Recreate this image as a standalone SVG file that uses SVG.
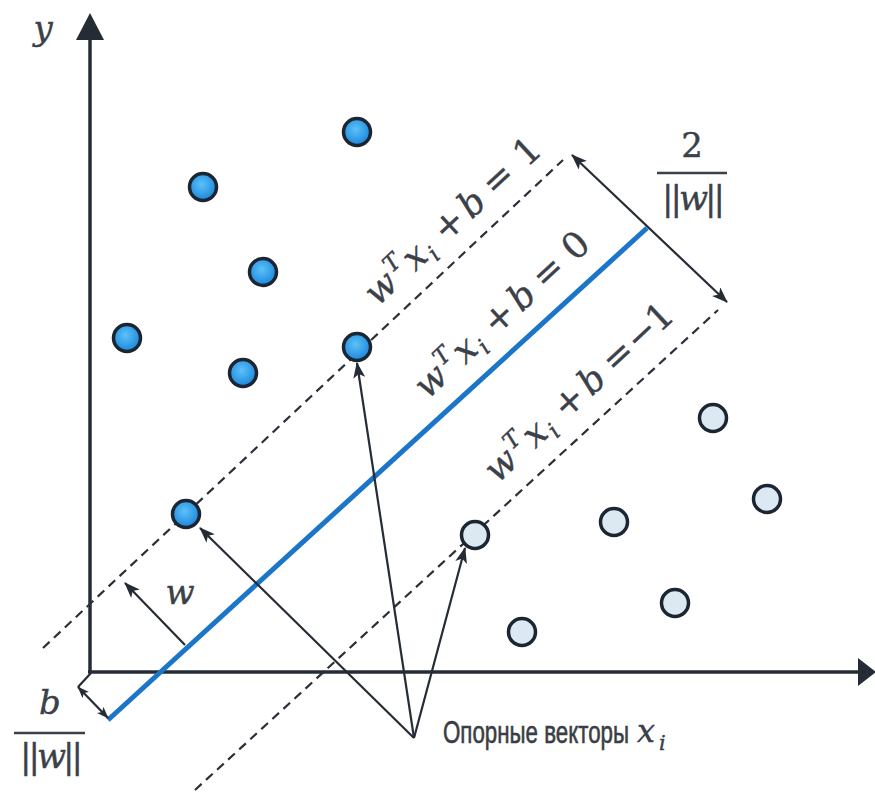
<svg xmlns="http://www.w3.org/2000/svg" width="875" height="794" viewBox="0 0 875 794">
<defs>
<radialGradient id="gb" cx="45%" cy="40%" r="60%"><stop offset="0" stop-color="#5cc2f8"/><stop offset="1" stop-color="#1b86dc"/></radialGradient>
<marker id="ah" viewBox="0 0 16 12" refX="15" refY="6" markerWidth="16" markerHeight="12" markerUnits="userSpaceOnUse" orient="auto-start-reverse"><path d="M0,0 L16,6 L0,12 L4,6 z" fill="#252c36"/></marker>
<marker id="ahs" viewBox="0 0 16 12" refX="15" refY="6" markerWidth="12" markerHeight="9" markerUnits="userSpaceOnUse" orient="auto-start-reverse"><path d="M0,0 L16,6 L0,12 L4,6 z" fill="#252c36"/></marker>
<style>
.axis{stroke:#252c36;stroke-width:3.5;fill:none}
.ahd{fill:#252c36}
.dash{stroke:#2a2f38;stroke-width:2.2;stroke-dasharray:9 6;fill:none}
.arr{stroke:#252c36;stroke-width:2.2;fill:none}
.hyp{stroke:#1b75c9;stroke-width:5;fill:none}
.pb{fill:url(#gb);stroke:#1c2632;stroke-width:3.5}
.pw{fill:#dce8f2;stroke:#1c2632;stroke-width:3.5}
.m{font-family:"DejaVu Serif",serif;fill:#3b4049;stroke:#3b4049;stroke-width:0.4}
.it{font-style:italic}
.fb{stroke:#3b4049;stroke-width:2.5}
</style>
</defs>
<rect width="875" height="794" fill="#ffffff"/>

<g id="connectors">
  <line class="axis" x1="90" y1="38" x2="90" y2="673"/>
  <polygon class="ahd" points="90,13 76,40 104,40"/>
  <line class="axis" x1="88" y1="672" x2="860" y2="672"/>
  <polygon class="ahd" points="876,672 858,658 858,686"/>
  <line class="dash" x1="43" y1="648" x2="563" y2="160"/>
  <line class="dash" x1="195" y1="790" x2="718" y2="310"/>
  <line class="hyp" x1="108" y1="720" x2="647" y2="228"/>
  <line class="arr" x1="572" y1="155" x2="727" y2="302" marker-start="url(#ah)" marker-end="url(#ah)"/>
  <line class="arr" x1="185" y1="645" x2="125" y2="583" marker-end="url(#ah)"/>
  <line class="arr" x1="91" y1="673" x2="78" y2="687"/>
  <line class="arr" x1="78" y1="687" x2="108" y2="718" marker-start="url(#ahs)" marker-end="url(#ahs)"/>
  <line class="arr" x1="414" y1="738" x2="200" y2="528" marker-end="url(#ah)"/>
  <line class="arr" x1="414" y1="738" x2="357" y2="363" marker-end="url(#ah)"/>
  <line class="arr" x1="414" y1="738" x2="465" y2="548" marker-end="url(#ah)"/>
</g>

<g id="class-positive">
  <circle class="pb" cx="357" cy="132" r="13.5"/>
  <circle class="pb" cx="203" cy="187" r="13.5"/>
  <circle class="pb" cx="263" cy="272" r="13.5"/>
  <circle class="pb" cx="127" cy="338" r="13.5"/>
  <circle class="pb" cx="243" cy="373" r="13.5"/>
  <circle class="pb" cx="357" cy="347" r="13.5"/>
  <circle class="pb" cx="186" cy="514" r="13.5"/>
</g>
<g id="class-negative">
  <circle class="pw" cx="713" cy="418" r="13.5"/>
  <circle class="pw" cx="767" cy="499" r="13.5"/>
  <circle class="pw" cx="614" cy="522" r="13.5"/>
  <circle class="pw" cx="475" cy="535" r="13.5"/>
  <circle class="pw" cx="675" cy="603" r="13.5"/>
  <circle class="pw" cx="522" cy="632" r="13.5"/>
</g>

<g id="label-y"><text class="m it" x="43" y="40" font-size="34" text-anchor="middle">y</text></g>
<g id="label-w"><text class="m it" x="180" y="604" font-size="34" text-anchor="middle">w</text></g>

<g id="label-plus1" transform="translate(383,290) rotate(-43)">
  <text class="m" font-size="36" text-anchor="middle"><tspan class="it" x="0" y="9">w</tspan><tspan class="it" x="25" y="-6" font-size="23">T</tspan><tspan class="it" x="46" y="9">x</tspan><tspan class="it" x="62" y="16" font-size="23">i</tspan><tspan x="93" y="9">+</tspan><tspan class="it" x="124" y="9">b</tspan><tspan x="160" y="9">=</tspan><tspan x="200" y="9">1</tspan></text>
</g>
<g id="label-zero" transform="translate(433,383) rotate(-43)">
  <text class="m" font-size="36" text-anchor="middle"><tspan class="it" x="0" y="9">w</tspan><tspan class="it" x="25" y="-6" font-size="23">T</tspan><tspan class="it" x="46" y="9">x</tspan><tspan class="it" x="62" y="16" font-size="23">i</tspan><tspan x="93" y="9">+</tspan><tspan class="it" x="124" y="9">b</tspan><tspan x="160" y="9">=</tspan><tspan x="198" y="9">0</tspan></text>
</g>
<g id="label-minus1" transform="translate(503,467) rotate(-43)">
  <text class="m" font-size="36" text-anchor="middle"><tspan class="it" x="0" y="9">w</tspan><tspan class="it" x="25" y="-6" font-size="23">T</tspan><tspan class="it" x="46" y="9">x</tspan><tspan class="it" x="62" y="16" font-size="23">i</tspan><tspan x="93" y="9">+</tspan><tspan class="it" x="124" y="9">b</tspan><tspan x="160" y="9">=</tspan><tspan x="192" y="9">−</tspan><tspan x="217" y="9">1</tspan></text>
</g>

<g id="label-margin">
  <text class="m" x="692" y="157" font-size="34" text-anchor="middle">2</text>
  <line class="fb" x1="657" y1="173" x2="727" y2="173"/>
  <text class="m" x="692" y="210" font-size="34" text-anchor="middle" letter-spacing="-3">||<tspan class="it">w</tspan>||</text>
</g>
<g id="label-offset">
  <text class="m it" x="50" y="714" font-size="34" text-anchor="middle">b</text>
  <line class="fb" x1="14" y1="733" x2="85" y2="733"/>
  <text class="m" x="50" y="768" font-size="34" text-anchor="middle" letter-spacing="-3">||<tspan class="it">w</tspan>||</text>
</g>

<g id="label-support">
  <text x="443" y="743" font-family="Liberation Sans, sans-serif" font-size="32" textLength="186" lengthAdjust="spacingAndGlyphs" fill="#3a3d42" stroke="#3a3d42" stroke-width="0.6">Опорные векторы</text>
  <text class="m it" x="637" y="742" font-size="32"><tspan>x</tspan><tspan dx="4" dy="8" font-size="21">i</tspan></text>
</g>
</svg>
